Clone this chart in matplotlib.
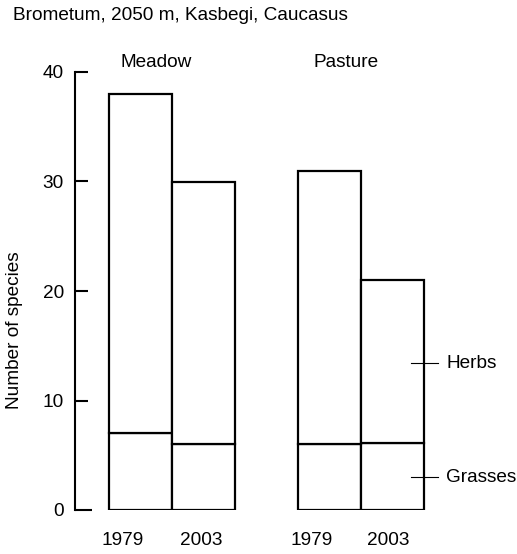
import numpy as np
import matplotlib
matplotlib.use("Agg")
import matplotlib.pyplot as plt

plt.rcParams['font.family'] = ['Liberation Sans', 'DejaVu Sans']

# data
title = "Brometum, 2050 m, Kasbegi, Caucasus"
groups = ["Meadow", "Pasture"]
years = ["1979", "2003", "1979", "2003"]
grasses = np.array([7, 6, 6, 6.1])
totals = np.array([38, 30, 31, 21])
herbs = totals - grasses
pos = np.array([1, 2, 4, 5])

W, H = 517, 554
fs = 13.7
fig = plt.figure(figsize=(W / 100, H / 100), dpi=100)
# axes: left spine at x=75px, y=0 at 510px, y=40 at 72px
ax = fig.add_axes([75 / W, (H - 510) / H, (W - 75) / W, (510 - 72) / H])

lw = 1.6
ax.bar(pos, grasses, width=1.0, color="white", edgecolor="black", linewidth=lw)
ax.bar(pos, herbs, width=1.0, bottom=grasses, color="white",
       edgecolor="black", linewidth=lw)

ax.set_ylim(0, 40)
ax.set_xlim(-0.04, 6.98)
ax.set_yticks([0, 10, 20, 30, 40])
ax.tick_params(axis="y", direction="in", length=9.5, width=1.5,
               labelsize=fs, pad=8)
ax.yaxis.get_major_ticks()[0].tick1line.set_markersize(12.5)
ax.set_xticks([])
for s in ["top", "right", "bottom"]:
    ax.spines[s].set_visible(False)
ax.spines["left"].set_linewidth(1.5)
ax.spines["left"].set_bounds(0, 40)

# year labels under each bar
year_shift = [-0.29, -0.04, -0.28, -0.06]
for x, yr, dx in zip(pos, years, year_shift):
    ax.text(x + dx, -2.8, yr, ha="center", va="center", fontsize=fs,
            clip_on=False)

# group headers
ax.text(1.25, 40.9, groups[0], ha="center", va="center", fontsize=fs,
        clip_on=False)
ax.text(4.27, 40.9, groups[1], ha="center", va="center", fontsize=fs,
        clip_on=False)

# component labels at the right
for yv, lab in [(13.4, "Herbs"), (3.0, "Grasses")]:
    ax.plot([5.29, 5.73], [yv, yv], color="black", linewidth=0.8,
            clip_on=False)
    ax.text(5.86, yv, lab, ha="left", va="center", fontsize=fs,
            clip_on=False)

fig.text(13 / W, 1 - 15 / H, title, ha="left", va="center", fontsize=fs)
fig.text(15 / W, 1 - 330 / H, "Number of species", rotation=90,
         ha="center", va="center", fontsize=fs)

fig.savefig("out.png", dpi=100)
